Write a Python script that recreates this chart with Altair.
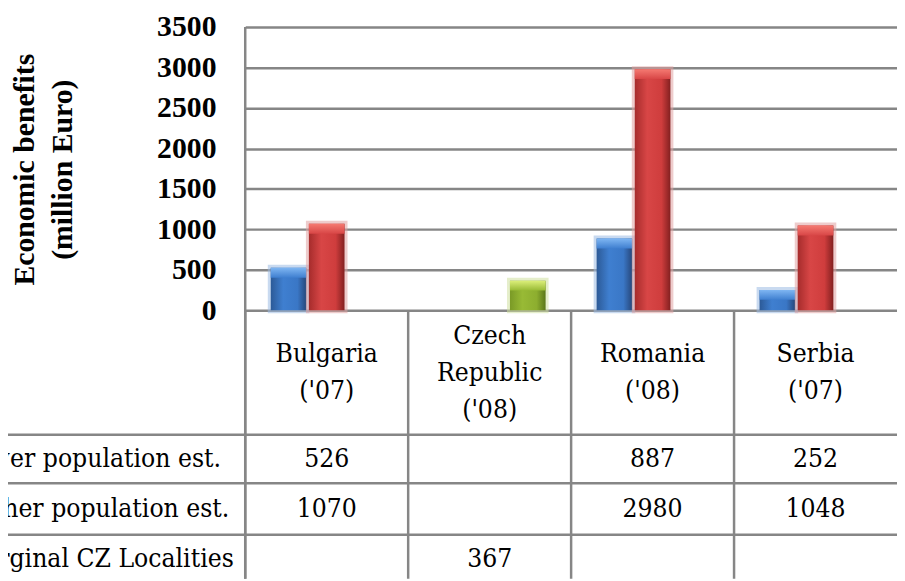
import altair as alt
import pandas as pd

# ---------------- data ----------------
categories = ["Bulgaria", "Czech Republic", "Romania", "Serbia"]
header_labels = ["Bulgaria\n('07)", "Czech\nRepublic\n('08)", "Romania\n('08)", "Serbia\n('07)"]
series = ["Lower population est.", "Higher population est.", "Marginal CZ Localities"]
lower = [526, None, 887, 252]
higher = [1070, None, 2980, 1048]
marginal = [None, 367, None, None]
y_ticks = [0, 500, 1000, 1500, 2000, 2500, 3000, 3500]

rows = []
for s, vals in zip(series, [lower, higher, marginal]):
    for c, v in zip(categories, vals):
        if v is not None:
            rows.append({"category": c, "series": s, "value": v})
df = pd.DataFrame(rows)
cats = pd.DataFrame({"category": categories})

# ---------------- layout ----------------
W = 658
PLOT_H = 286
H = 557
FONT_B = "Liberation Serif"
FONT_R = "'DejaVu Serif Condensed', 'DejaVu Serif', serif"
FS_R = 26.5
LINE = "#868686"
LW = 2.5
LH = 37.5

header_center = 349
row_y = [436, 486.5, 537.5]
row_lines = [411.5, 460.5, 512.5]
row_label_x = -288

xscale = alt.Scale(domain=categories, paddingInner=0, paddingOuter=0)
xoff_scale = alt.Scale(domain=series, paddingInner=0.065, paddingOuter=0.669)
yscale = alt.Scale(domain=[0, 3500], range=[PLOT_H, 0], nice=False, zero=True)
yaxis = alt.Axis(
    values=y_ticks, format="d", grid=True, gridColor=LINE, gridWidth=LW, gridOpacity=1,
    ticks=False, domain=False, labelFont=FONT_B, labelFontSize=30,
    labelFontWeight="bold", labelColor="black", labelPadding=29.5,
    labelFlush=False, labelOverlap=False, labelBaseline="middle",
    title=["Economic benefits", "(million Euro)"], titleFont=FONT_B,
    titleFontSize=30, titleFontWeight="bold", titleColor="black",
    titleAngle=270, titleX=-222.5, titleY=143.5, titleAlign="center",
    titleBaseline="middle", titleLineHeight=38,
)

# body gradient, top highlight, halo colour
styles = {
    "Lower population est.": (["#2c5a97", "#3f7fd0", "#3a77c6", "#27477a"], ["#7fb6f2", "#3f7fd0"], "#9dbbe3"),
    "Higher population est.": (["#a62c2c", "#d84646", "#cf3d3d", "#832020"], ["#f57a72", "#d84646"], "#e0a3a3"),
    "Marginal CZ Localities": (["#7a9a26", "#98ba35", "#8dae2f", "#5b771a"], ["#dcef7a", "#98ba35"], "#cfe0a0"),
}


def hgrad(cols):
    offs = [0, 0.35, 0.75, 1]
    return alt.LinearGradient(
        gradient="linear", x1=0, x2=1, y1=0, y2=0,
        stops=[alt.GradientStop(offset=o, color=c) for o, c in zip(offs, cols)],
    )


def vgrad(cols):
    return alt.LinearGradient(
        gradient="linear", x1=0, x2=0, y1=0, y2=1,
        stops=[alt.GradientStop(offset=0, color=cols[0]),
               alt.GradientStop(offset=1, color=cols[1])],
    )


layers = []
layers.append(
    alt.Chart(cats.head(1)).mark_rule(color=LINE, strokeWidth=LW).encode(
        x=alt.value(0), y=alt.value(0), y2=alt.value(H)
    )
)

for s in series:
    body, top, halo = styles[s]
    base = alt.Chart(df).transform_filter(alt.datum.series == s)
    enc = dict(
        x=alt.X("category:N", scale=xscale, axis=None),
        xOffset=alt.XOffset("series:N", scale=xoff_scale),
        y=alt.Y("value:Q", scale=yscale, axis=yaxis),
    )
    layers.append(
        base.mark_bar(fillOpacity=0, stroke=halo, strokeWidth=6, strokeOpacity=0.55).encode(**enc)
    )
    layers.append(base.mark_bar(color=hgrad(body)).encode(**enc))
    layers.append(
        base.mark_bar(color=vgrad(top), y2Offset=10).encode(
            y2=alt.Y2("value:Q"), **enc
        )
    )

layers.append(
    alt.Chart(cats).mark_rule(color=LINE, strokeWidth=LW).encode(
        x=alt.X("category:N", scale=xscale, axis=None, bandPosition=0),
        y=alt.value(PLOT_H), y2=alt.value(H),
    )
)

for yy in row_lines:
    layers.append(
        alt.Chart(cats.head(1)).mark_rule(color=LINE, strokeWidth=LW).encode(
            x=alt.value(-320), x2=alt.value(W), y=alt.value(yy)
        )
    )

for c, lab in zip(categories, header_labels):
    n = lab.count("\n") + 1
    layers.append(
        alt.Chart(pd.DataFrame({"category": [c], "label": [lab]})).mark_text(
            font=FONT_R, fontSize=FS_R, color="black", align="center",
            baseline="middle", lineBreak="\n", lineHeight=LH,
        ).encode(
            x=alt.X("category:N", scale=xscale, axis=None),
            y=alt.value(header_center - (n - 1) * LH / 2), text="label:N",
        )
    )

for s, yy in zip(series, row_y):
    layers.append(
        alt.Chart(pd.DataFrame({"label": [s]})).mark_text(
            font=FONT_R, fontSize=FS_R, color="black", align="left", baseline="middle"
        ).encode(x=alt.value(row_label_x), y=alt.value(yy), text="label:N")
    )
    layers.append(
        alt.Chart(df).transform_filter(alt.datum.series == s).mark_text(
            font=FONT_R, fontSize=FS_R, color="black", align="center", baseline="middle"
        ).encode(
            x=alt.X("category:N", scale=xscale, axis=None),
            y=alt.value(yy),
            text=alt.Text("value:Q", format="d"),
        )
    )

chart = alt.layer(*layers).properties(
    width=W, height=H,
    autosize=alt.AutoSizeParams(type="none"),
    padding={"left": 239.5, "top": 16.5, "right": 0, "bottom": 0},
    background="white",
).configure_view(stroke=None)

chart.save("out.html", embed_options={"renderer": "svg", "actions": False})
